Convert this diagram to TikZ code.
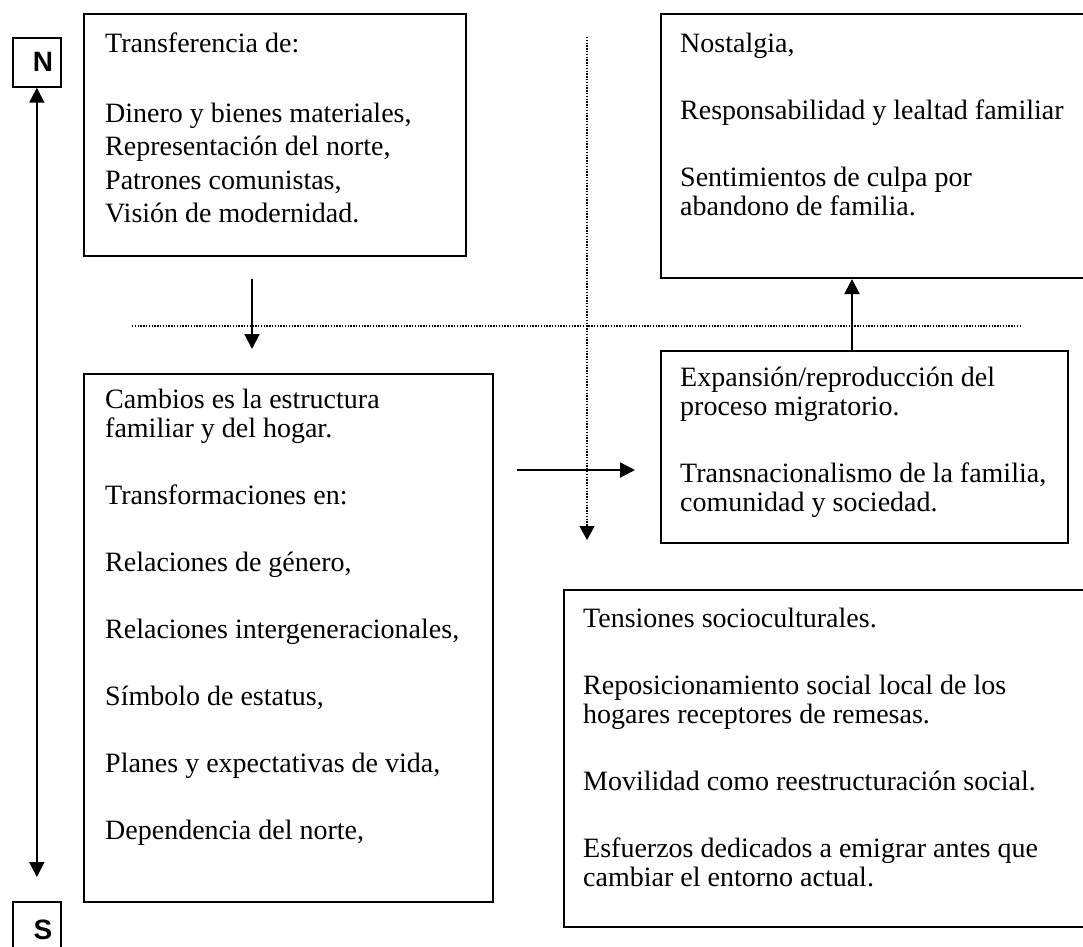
\documentclass[tikz,border=0pt]{standalone}
\usepackage{fontspec}
\setmainfont{Liberation Serif}
\newfontfamily\nsfont{Liberation Sans}
\usetikzlibrary{arrows.meta}
\tikzset{
  box/.style={draw=black, line width=2pt, rectangle, inner sep=0pt, anchor=north west},
  nsbox/.style={draw=black, line width=1.7pt, rectangle, inner sep=0pt, anchor=north west, minimum width=48pt, minimum height=49pt},
  nslabel/.style={font=\nsfont\bfseries\fontsize{28pt}{30pt}\selectfont, inner sep=0pt},
  txt/.style={inner sep=0pt, anchor=base west, font=\fontsize{28pt}{29pt}\selectfont},
  arr/.style={line width=2pt, -{Triangle[length=15pt,width=15pt]}},
  dblarr/.style={line width=2pt, {Triangle[length=15pt,width=15pt]}-{Triangle[length=15pt,width=15pt]}},
  dotline/.style={line width=1.3pt, dash pattern=on 1.3pt off 1.5pt},
}
\newcommand{\gapP}{\\[38pt]}
\newcommand{\gapL}{\\[4.5pt]}
\begin{document}
\begin{tikzpicture}[x=1pt,y=-1pt]
\clip (0,0) rectangle (1083,946);
\fill[white] (0,0) rectangle (1083,946);
% boxes
\node[box, minimum width=382pt, minimum height=242pt] (b1) at (83,13) {};
\node[box, minimum width=430pt, minimum height=264pt] (nost) at (660,13) {};
\node[box, minimum width=409pt, minimum height=528pt] (camb) at (83,373) {};
\node[box, minimum width=407pt, minimum height=192pt] (exp) at (660,350) {};
\node[box, minimum width=527pt, minimum height=337pt] (tens) at (563,589) {};
\node[nsbox] (nb) at (12,37) {};
\node[nsbox] (sb) at (12,901) {};
\node[nslabel] (nl) at (43,62) {N};
\node[nslabel] (sl) at (43,930) {S};
% texts
\node[txt] (t1) at (105,52) {\parbox[t]{450pt}{Transferencia de:\\[41pt]
Dinero y bienes materiales,\gapL
Representación del norte,\gapL
Patrones comunistas,\gapL
Visión de modernidad.}};
\node[txt] (t2) at (680,52) {\parbox[t]{450pt}{Nostalgia,\gapP
Responsabilidad y lealtad familiar\gapP
Sentimientos de culpa por\\
abandono de familia.}};
\node[txt] (t3) at (105,408) {\parbox[t]{450pt}{Cambios es la estructura\\
familiar y del hogar.\gapP
Transformaciones en:\gapP
Relaciones de género,\gapP
Relaciones intergeneracionales,\gapP
Símbolo de estatus,\gapP
Planes y expectativas de vida,\gapP
Dependencia del norte,}};
\node[txt] (t4) at (680,386) {\parbox[t]{450pt}{Expansión/reproducción del\\
proceso migratorio.\gapP
Transnacionalismo de la familia,\\
comunidad y sociedad.}};
\node[txt] (t5) at (583,627) {\parbox[t]{500pt}{Tensiones socioculturales.\gapP
Reposicionamiento social local de los\\
hogares receptores de remesas.\gapP
Movilidad como reestructuración social.\gapP
Esfuerzos dedicados a emigrar antes que\\
cambiar el entorno actual.}};
% helper coordinates
\coordinate (xa) at (252,0);
\coordinate (xu) at (852,0);
\coordinate (yh) at (0,470);
\coordinate (dvTop) at (587,37);
\coordinate (dvBot) at (587,540);
\coordinate (dhL) at (132,326);
\coordinate (dhR) at (1020,326);
% connectors
\draw[dotline] (dhL) -- (dhR);
\draw[dotline, -{Triangle[length=14pt,width=15pt]}] (dvTop) -- (dvBot);
\draw[arr, shorten <=22pt, shorten >=24pt] (b1.south -| xa) -- (camb.north -| xa);
\draw[arr] (exp.north -| xu) -- (nost.south -| xu);
\draw[arr, shorten <=23pt, shorten >=25pt] (camb.east |- yh) -- (exp.west |- yh);
\draw[dblarr, shorten >=24pt] (nb.south) -- (sb.north);
\end{tikzpicture}
\end{document}
